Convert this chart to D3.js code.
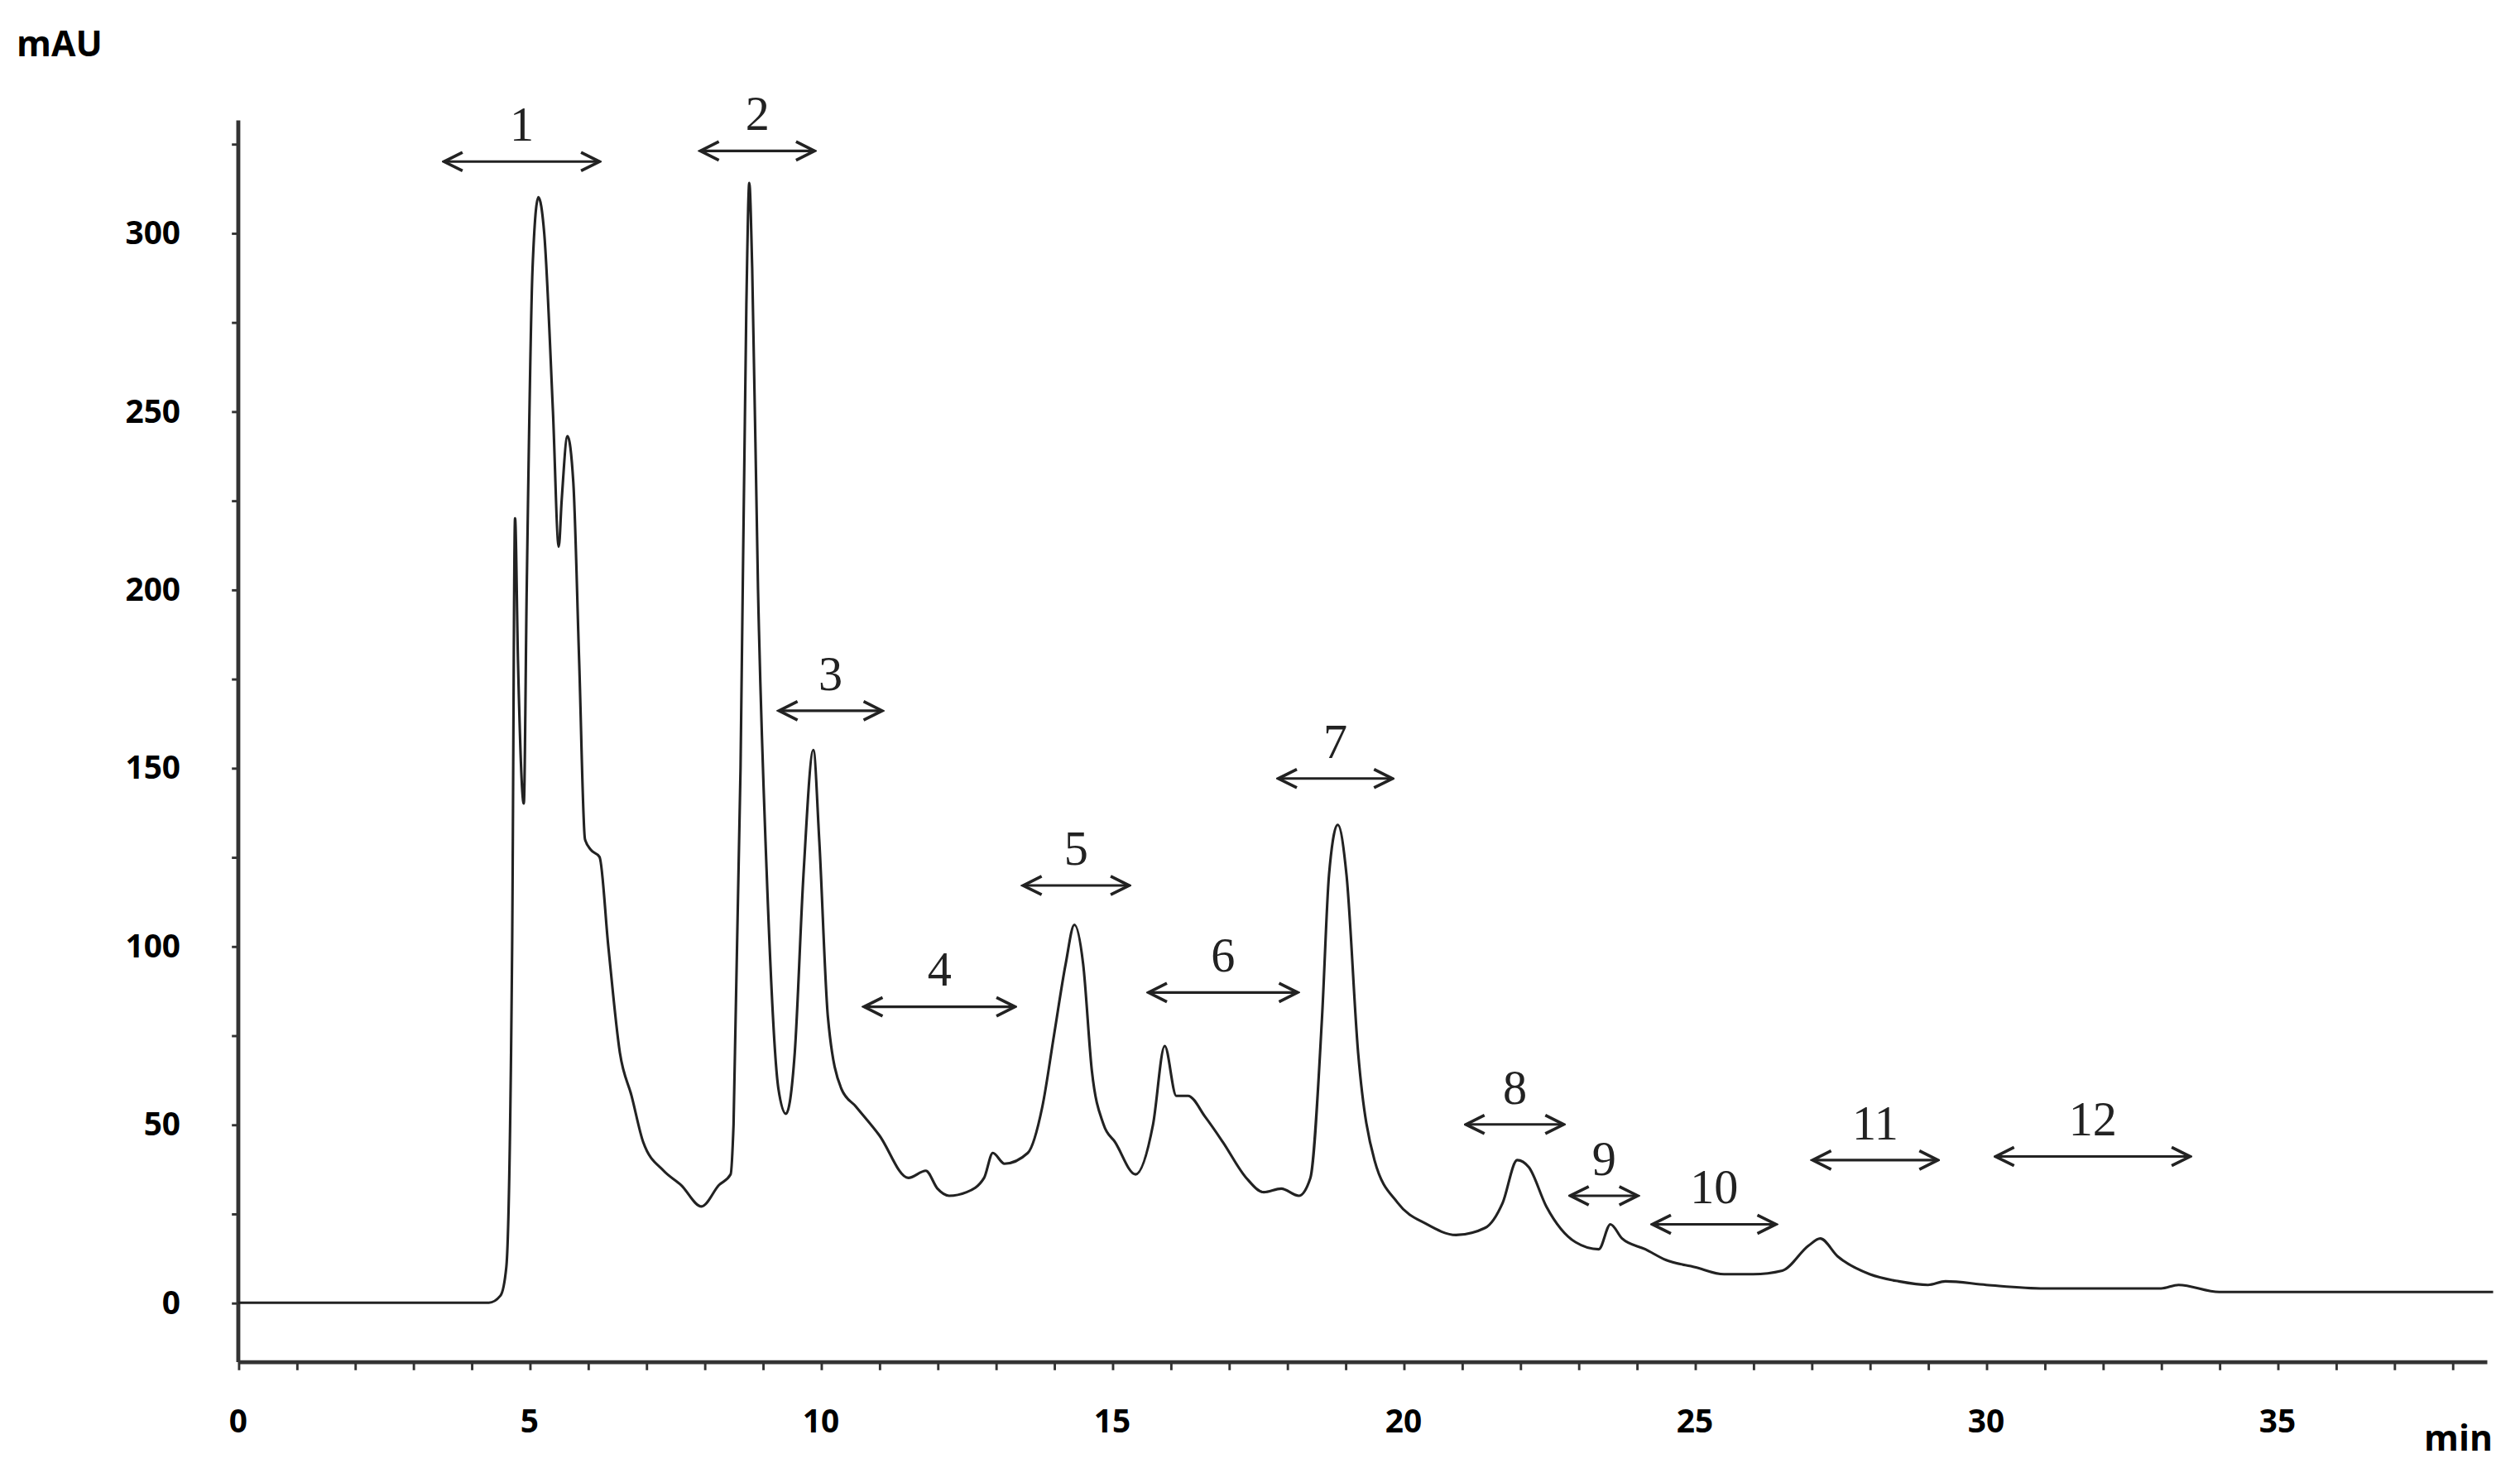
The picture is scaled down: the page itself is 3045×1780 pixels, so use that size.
<!DOCTYPE html>
<html><head><meta charset="utf-8">
<script src="https://cdn.jsdelivr.net/npm/d3@7"></script>
<style>body{margin:0;background:#fff}</style>
</head><body>
<svg id="chart" width="3045" height="1780" viewBox="0 0 1568 917"></svg>
<script>
// chromatogram trace: [time (min), absorbance (mAU)]
var trace = [
  [0,0],[4.3,0],[4.5,2],[4.6,10],[4.7,100],[4.75,220],[4.8,180],[4.9,140],[4.95,200],[5.05,290],
  [5.15,310],[5.25,300],[5.4,250],[5.5,212],[5.55,225],[5.65,243],[5.75,230],[5.85,180],[5.95,130],[6.05,127],
  [6.2,125],[6.35,100],[6.55,70],[6.75,58],[6.95,45],[7.3,37],[7.6,33],[7.95,27],[8.25,33],[8.45,36],
  [8.5,50],[8.62,150],[8.72,280],[8.77,314],[8.82,290],[8.92,200],[9.07,120],[9.27,60],[9.4,53],[9.55,70],
  [9.7,120],[9.87,155],[9.97,130],[10.12,80],[10.35,60],[10.6,55],[11.0,47],[11.5,35],[11.8,37],[12.0,32],
  [12.2,30],[12.5,31],[12.8,35],[12.95,42],[13.15,39],[13.55,42],[13.8,55],[14.0,75],[14.2,95],[14.35,106],
  [14.5,95],[14.65,65],[14.85,50],[15.05,45],[15.4,36],[15.7,50],[15.9,72],[16.1,58],[16.3,58],[16.6,52],
  [16.9,45],[17.3,35],[17.6,31],[17.9,32],[18.2,30],[18.4,35],[18.6,80],[18.72,120],[18.87,134],[19.02,120],
  [19.22,70],[19.5,40],[19.9,28],[20.4,22],[20.9,19],[21.4,21],[21.7,28],[21.95,40],[22.15,38],[22.45,27],
  [22.95,17],[23.35,15],[23.55,22],[23.75,18],[24.15,15],[24.5,12],[25.0,10],[25.5,8],[26.0,8],[26.5,9],
  [26.95,16],[27.15,18],[27.45,13],[28.0,8],[28.5,6],[29.0,5],[29.3,6],[30,5],[31,4],[33,4],
  [33.3,5],[34,3],[38.7,3]
];
// fraction markers: label, start, end (min), height (mAU)
var fractions = ["1","2","3","4","5","6","7","8","9","10","11","12"];
var fracStart = [3.53,7.93,9.28,10.74,13.47,15.62,17.85,21.07,22.86,24.27,27.02,30.16];
var fracEnd   = [6.2,9.89,11.05,13.33,15.29,18.18,19.81,22.75,24.02,26.39,29.17,33.5];
var fracLevel = [320,323,166,83,117,87,147,50,30,22,40,41];
var xTicks = [0,5,10,15,20,25,30,35];
var yTicks = [0,50,100,150,200,250,300];

var svg = d3.select("#chart");
var x = d3.scaleLinear().domain([0, 38.6]).range([148, 1548]);
var y = d3.scaleLinear().domain([0, 300]).range([811, 145]);
var axisY = 848;

var defs = svg.append("defs");
defs.append("marker").attr("id","ah").attr("viewBox","0 0 10 10").attr("refX",9).attr("refY",5)
  .attr("markerWidth",9).attr("markerHeight",9).attr("orient","auto-start-reverse")
  .append("path").attr("d","M1,1L9,5L1,9").attr("fill","none").attr("stroke","#222").attr("stroke-width",1.3);

// y axis
var gy = svg.append("g").attr("transform","translate(148,0)")
  .call(d3.axisLeft(y).tickValues(d3.range(-0,326,25)).tickSize(4).tickFormat(""));
gy.select(".domain").remove();
svg.append("line").attr("x1",148).attr("x2",148).attr("y1",75).attr("y2",axisY)
  .attr("stroke","#333").attr("stroke-width",2.5);
svg.selectAll(".ylab").data(yTicks).enter().append("text")
  .attr("x",112).attr("y",function(d){return y(d)+7;}).attr("text-anchor","end")
  .attr("font-family","Open Sans, sans-serif").attr("font-weight","bold").attr("font-size",20)
  .text(function(d){return d;});

// x axis
var gx = svg.append("g").attr("transform","translate(0,"+axisY+")")
  .call(d3.axisBottom(x).tickValues(d3.range(0,39,1)).tickSize(5).tickFormat(""));
gx.select(".domain").remove();
svg.append("line").attr("x1",148).attr("x2",1548).attr("y1",axisY).attr("y2",axisY)
  .attr("stroke","#333").attr("stroke-width",2.5);
svg.selectAll(".xlab").data(xTicks).enter().append("text")
  .attr("x",function(d){return x(d);}).attr("y",892).attr("text-anchor","middle")
  .attr("font-family","Open Sans, sans-serif").attr("font-weight","bold").attr("font-size",20)
  .text(function(d){return d;});
svg.selectAll(".tick line").attr("stroke","#333").attr("stroke-width",1.5);
svg.append("text").attr("x",1530).attr("y",903).attr("text-anchor","middle")
  .attr("font-family","Open Sans, sans-serif").attr("font-weight","bold").attr("font-size",22).text("min");
svg.append("text").attr("x",10).attr("y",35)
  .attr("font-family","Open Sans, sans-serif").attr("font-weight","bold").attr("font-size",22).text("mAU");

// trace
svg.append("path").datum(trace)
  .attr("d", d3.line().x(function(d){return x(d[0]);}).y(function(d){return y(d[1]);}).curve(d3.curveMonotoneX))
  .attr("fill","none").attr("stroke","#222").attr("stroke-width",1.6);

// fraction arrows
var fr = svg.selectAll(".frac").data(fractions).enter().append("g");
fr.append("line")
  .attr("x1",function(d,i){return x(fracStart[i]);}).attr("x2",function(d,i){return x(fracEnd[i]);})
  .attr("y1",function(d,i){return y(fracLevel[i]);}).attr("y2",function(d,i){return y(fracLevel[i]);})
  .attr("stroke","#222").attr("stroke-width",1.6)
  .attr("marker-start","url(#ah)").attr("marker-end","url(#ah)");
fr.append("text")
  .attr("x",function(d,i){return x((fracStart[i]+fracEnd[i])/2);})
  .attr("y",function(d,i){return y(fracLevel[i])-13;}).attr("text-anchor","middle")
  .attr("font-family","Liberation Serif, serif").attr("font-size",30).attr("fill","#222")
  .text(function(d){return d;});
</script>
</body></html>
